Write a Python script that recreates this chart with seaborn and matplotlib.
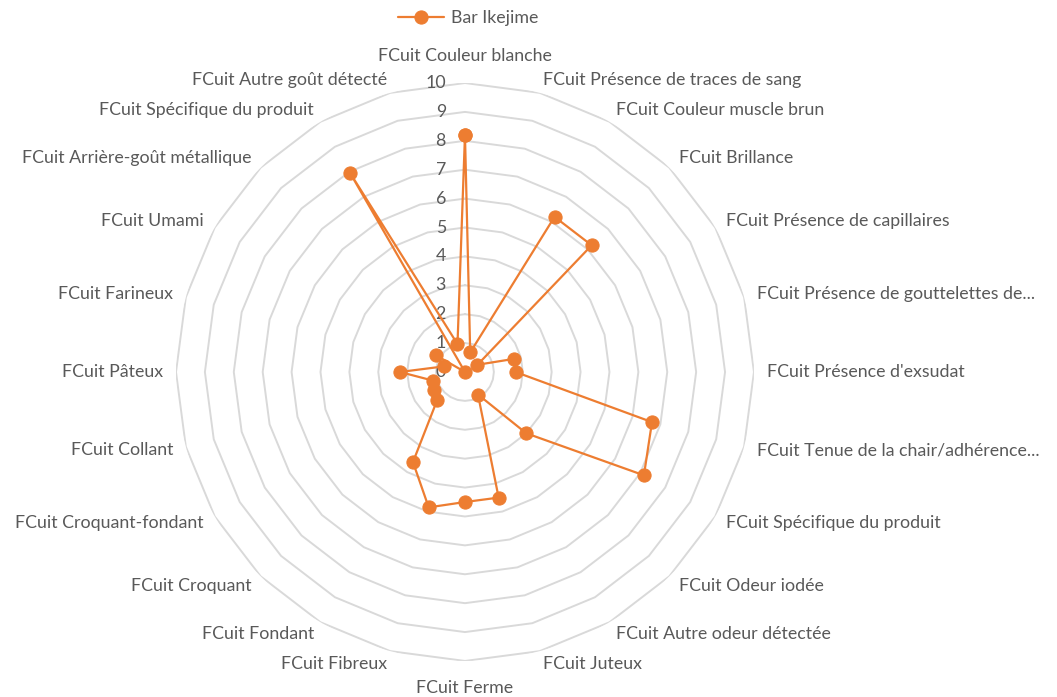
import numpy as np
import matplotlib
matplotlib.use("Agg")
import matplotlib.pyplot as plt
import matplotlib.transforms as mtransforms
import seaborn as sns

# categories, clockwise from the top
categories = [
    "FCuit Couleur blanche",
    "FCuit Présence de traces de sang",
    "FCuit Couleur muscle brun",
    "FCuit Brillance",
    "FCuit Présence de capillaires",
    "FCuit Présence de gouttelettes de...",
    "FCuit Présence d'exsudat",
    "FCuit Tenue de la chair/adhérence...",
    "FCuit Spécifique du produit",
    "FCuit Odeur iodée",
    "FCuit Autre odeur détectée",
    "FCuit Juteux",
    "FCuit Ferme",
    "FCuit Fibreux",
    "FCuit Fondant",
    "FCuit Croquant",
    "FCuit Croquant-fondant",
    "FCuit Collant",
    "FCuit Pâteux",
    "FCuit Farineux",
    "FCuit Umami",
    "FCuit Arrière-goût métallique",
    "FCuit Spécifique du produit",
    "FCuit Autre goût détecté",
]
bar_ikejime = [8.2, 0.7, 6.2, 6.2, 0.5, 1.75, 1.75, 6.7, 7.15, 3.0, 0.9, 4.5,
               4.5, 4.85, 3.6, 1.35, 1.23, 1.15, 2.25, 0.75, 1.15, 0.0, 7.95, 1.0]
series_name = "Bar Ikejime"
r_ticks = list(range(0, 11))

ORANGE = "#ED7D31"
GRID = "#D9D9D9"
TEXT = "#595959"
FS = 12.8

sns.set_theme(style="white")
plt.rcParams["font.family"] = ["Lato", "DejaVu Sans"]

n = len(categories)
theta = np.linspace(0, 2 * np.pi, n, endpoint=False)
theta_closed = np.append(theta, 2 * np.pi)
vals_closed = np.append(bar_ikejime, bar_ikejime[0])

fig = plt.figure(figsize=(10.57, 6.97), dpi=100)
ax = fig.add_axes([0.1665, 0.0517, 0.5468, 0.8292], projection="polar")
ax.set_theta_zero_location("N")
ax.set_theta_direction(-1)
ax.set_ylim(0, 10)
ax.grid(False)
ax.spines["polar"].set_visible(False)
ax.set_xticks([])
ax.set_yticks([])
ax.set_facecolor("white")

# polygon gridlines
for k in r_ticks[1:]:
    ax.plot(theta_closed, [k] * (n + 1), color=GRID, lw=1.4, zorder=1)

# radial tick labels, left of the top axis
off = mtransforms.offset_copy(ax.transData, fig=fig, x=-19, y=0, units="dots")
for k in r_ticks:
    ax.text(0, k, str(k), transform=off, ha="right", va="center",
            fontsize=FS, color=TEXT)

sns.lineplot(x=theta_closed, y=vals_closed, ax=ax, sort=False, estimator=None,
             color=ORANGE, lw=1.6, marker="o", markersize=9.5,
             markeredgecolor=ORANGE, label=series_name, zorder=3)

# category labels
for t, lab in zip(theta, categories):
    deg = np.degrees(t)
    r = 10.45
    if np.isclose(deg, 0):
        ha, va, r = "center", "bottom", 10.65
    elif np.isclose(deg, 180):
        ha, va, r = "center", "top", 10.65
    elif deg < 180:
        ha, va = "left", "center"
    else:
        ha, va = "right", "center"
    ax.text(t, r, lab, ha=ha, va=va, fontsize=FS, color=TEXT, clip_on=False)

ax.legend_.remove()
handles, labels = ax.get_legend_handles_labels()
fig.legend(handles, labels, loc="center", bbox_to_anchor=(0.443, 0.974),
           frameon=False, fontsize=FS, labelcolor=TEXT, handlelength=2.6,
           handletextpad=0.4)

fig.savefig("out.png", dpi=100, facecolor="white")
